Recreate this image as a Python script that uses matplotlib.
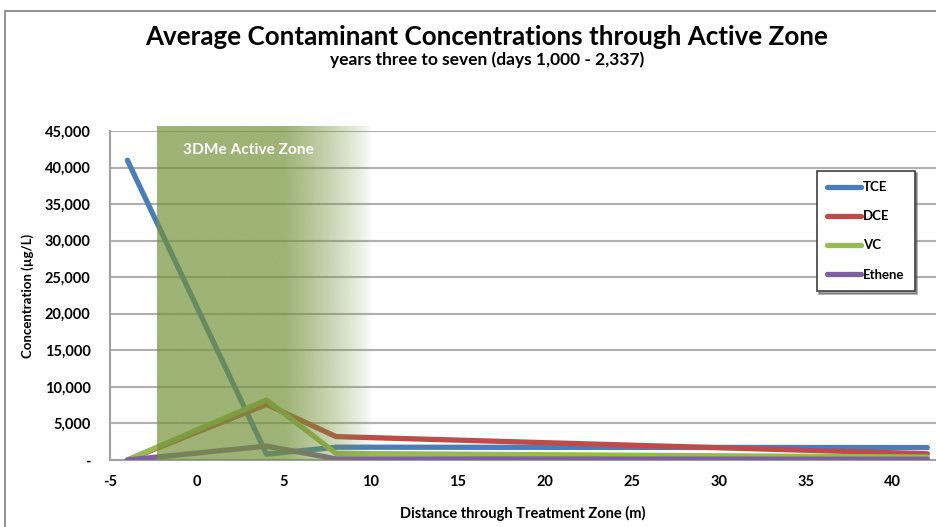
import numpy as np
import matplotlib
matplotlib.use("Agg")
import matplotlib.pyplot as plt
from matplotlib.patches import Rectangle
import matplotlib.ticker as mtick

plt.rcParams['font.family'] = ['Lato', 'DejaVu Sans']
plt.rcParams['font.weight'] = 'bold'
plt.rcParams['axes.unicode_minus'] = False

# data
distance = [-4, 4, 8, 42]
tce = [41000, 800, 1750, 1700]
dce = [0, 7600, 3200, 850]
vc = [0, 8200, 900, 400]
ethene = [0, 1900, 150, 100]
series = ["TCE", "DCE", "VC", "Ethene"]
colors = ["#4a7ebb", "#be4b48", "#98b954", "#7d60a0"]

zone_start, zone_solid, zone_end = -2.3, 5, 10.1

fig = plt.figure(figsize=(9.36, 5.27), dpi=100)
# outer chart frame (cropped on right and bottom like the screenshot)
fig.patches.append(Rectangle((5/936, -0.1), 1.1, 1.1 - 11/527, transform=fig.transFigure,
                             fill=False, edgecolor='#7f7f7f', linewidth=1.2))

ax = fig.add_axes([110/936, 1 - 460/527, 1 - 110/936, (460 - 131)/527])

for name, ys, c in zip(series, [tce, dce, vc, ethene], colors):
    ax.plot(distance, ys, color=c, linewidth=3.8, label=name, solid_capstyle='round', zorder=3)

# active zone: olive green, solid then fading to white
xs = np.linspace(zone_start, zone_end, 400)
alpha = np.clip((zone_end - xs) / (zone_end - zone_solid), 0, 1) ** 0.8 * 0.7
rgba = np.zeros((1, len(xs), 4))
rgba[..., :3] = matplotlib.colors.to_rgb('#74923a')
rgba[..., 3] = alpha
ax.imshow(rgba, extent=[zone_start, zone_end, 0, 45600], aspect='auto', zorder=4,
          interpolation='bilinear', clip_on=False)
ax.text(-0.8, 42400, "3DMe Active Zone", color='white', fontsize=11.2, fontweight='bold',
        va='center', ha='left', zorder=5)

ax.set_xlim(-5, 42.5)
ax.set_ylim(0, 45000)
ax.set_xticks(np.arange(-5, 41, 5))
ax.set_yticks(np.arange(0, 45001, 5000))
ax.yaxis.set_major_formatter(mtick.FuncFormatter(lambda v, p: '-' if v == 0 else f'{int(v):,}'))
ax.grid(axis='y', color='#b0b0b0', linewidth=1.5, zorder=1)
ax.set_axisbelow(True)
for s in ['top', 'right']:
    ax.spines[s].set_visible(False)
for s in ['left', 'bottom']:
    ax.spines[s].set_color('#a0a0a0')
    ax.spines[s].set_linewidth(1.5)
ax.tick_params(length=0, labelsize=10.5)
ax.tick_params(axis='x', pad=11)
ax.tick_params(axis='y', pad=14)

ax.set_xlabel("Distance through Treatment Zone (m)", fontsize=10.5, fontweight='bold', labelpad=12)
ax.set_ylabel("Concentration (\u00b5g/L)", fontsize=9.5, fontweight='bold', labelpad=8)

fig.text(487/936, 1 - 37/527, "Average Contaminant Concentrations through Active Zone",
         ha='center', va='center', fontsize=18.75, fontweight='bold')
fig.text(487/936, 1 - 60/527, "years three to seven (days 1,000 - 2,337)",
         ha='center', va='center', fontsize=12.5, fontweight='bold')

leg = ax.legend(loc='upper left', bbox_to_anchor=(810/936, 1 - 164/527), bbox_transform=fig.transFigure,
                fontsize=9.5, frameon=True, fancybox=False, shadow=True, handlelength=2.6,
                handletextpad=0.1, labelspacing=1.3, borderpad=0.8)
leg.get_frame().set_edgecolor('#404040')
leg.get_frame().set_linewidth(1.2)
leg.set_zorder(6)

fig.savefig("out.png", dpi=100)
